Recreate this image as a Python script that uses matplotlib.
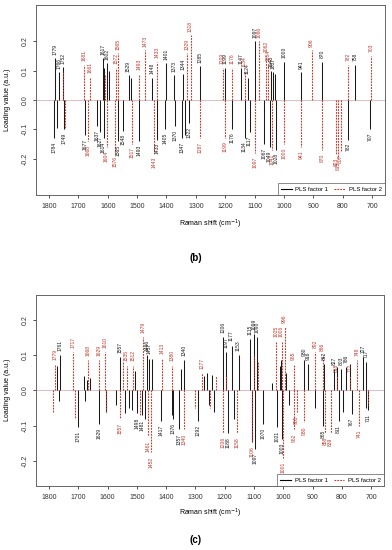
import matplotlib.pyplot as plt
from matplotlib.lines import Line2D

plt.rcParams['font.family'] = ['Liberation Sans', 'DejaVu Sans']

RED = '#c0392b'

# ---- panel (b): loadings of PLS factor 1 / factor 2 at selected Raman shifts
b_f1_shift = [1784, 1779, 1774, 1766, 1752, 1749, 1677, 1637,
              1627, 1617, 1614, 1611, 1602, 1597, 1565, 1548,
              1529, 1521, 1493, 1448, 1433, 1405, 1401, 1373,
              1370, 1347, 1344, 1336, 1322, 1285, 1199, 1176,
              1147, 1134, 1124, 1117, 1097, 1067, 1049, 1045,
              1037, 1030, 1028, 1000, 941, 870, 782, 758,
              707]
b_f1_load = [-0.13, 0.142, -0.095, 0.095, 0.112, -0.10, -0.12, -0.09,
             -0.11, 0.142, -0.13, 0.11, 0.125, 0.10, -0.14, -0.105,
             0.085, 0.075, -0.14, 0.075, -0.135, -0.10, 0.125, 0.085,
             -0.09, -0.13, 0.09, -0.12, -0.08, 0.115, 0.11, -0.10,
             0.11, -0.13, 0.075, -0.11, 0.20, -0.15, -0.16, 0.10,
             0.095, 0.09, -0.17, 0.13, 0.095, 0.13, -0.135, 0.12,
             -0.10]
b_f1_labels = [1784, 1779, 1766, 1752, 1749, 1677, 1637, 1627, 1617, 1614,
               1602, 1565, 1548, 1529, 1493, 1448, 1433, 1405, 1401, 1373,
               1370, 1347, 1344, 1322, 1285, 1199, 1147, 1134, 1124, 1117,
               1176, 1097, 1067, 1049, 1045, 1037, 1028, 1000, 941, 870,
               782, 758, 707]

b_f2_shift = [1753, 1745, 1681, 1668, 1661, 1608, 1604, 1576,
              1572, 1565, 1517, 1493, 1473, 1443, 1433, 1329,
              1318, 1287, 1209, 1199, 1176, 1134, 1097, 1086,
              1062, 1054, 1041, 1000, 941, 906, 870, 823,
              815, 807, 782, 703]
b_f2_load = [0.10, -0.10, 0.12, -0.14, 0.08, 0.09, -0.16, -0.18,
             0.11, 0.16, -0.15, 0.09, 0.17, -0.18, 0.13, 0.16,
             0.22, -0.13, 0.11, -0.13, 0.11, 0.10, -0.18, 0.20,
             0.15, 0.12, -0.17, -0.15, -0.16, 0.17, -0.17, -0.185,
             -0.20, -0.175, 0.12, 0.15]
b_f2_labels = [1681, 1668, 1661, 1604, 1576, 1572, 1565, 1517, 1493, 1473,
               1443, 1433, 1329, 1318, 1287, 1209, 1199, 1176, 1134, 1097,
               1086, 1062, 1054, 1041, 1000, 941, 906, 870, 823, 815,
               807, 782, 703]

# ---- panel (c)
c_f1_shift = [1771, 1765, 1761, 1701, 1681, 1676, 1670, 1660,
              1629, 1604, 1571, 1557, 1539, 1527, 1515, 1505,
              1498, 1481, 1471, 1466, 1457, 1448, 1417, 1380,
              1376, 1357, 1350, 1340, 1292, 1270, 1262, 1255,
              1245, 1238, 1206, 1197, 1188, 1177, 1170, 1153,
              1115, 1108, 1097, 1099, 1090, 1070, 1040, 1021,
              1012, 1007, 1003, 990, 980, 930, 916, 893,
              865, 862, 827, 817, 811, 803, 797, 786,
              774, 767, 727, 718, 717, 711]
c_f1_load = [0.07, -0.03, 0.10, -0.103, 0.04, -0.03, 0.03, 0.035,
             -0.095, -0.06, -0.04, 0.095, -0.065, -0.05, -0.055, 0.055,
             -0.065, -0.07, -0.08, 0.10, 0.09, 0.09, -0.085, -0.07,
             -0.08, -0.11, 0.06, 0.085, -0.085, 0.04, 0.05, -0.04,
             0.045, -0.06, 0.15, 0.108, -0.12, 0.127, -0.08, 0.10,
             0.145, -0.145, -0.165, 0.16, 0.15, -0.094, 0.02, -0.103,
             0.07, 0.085, -0.136, 0.05, -0.04, 0.085, 0.075, -0.05,
             -0.10, 0.075, 0.06, 0.065, -0.085, 0.06, -0.06, 0.065,
             0.075, -0.066, 0.094, -0.05, 0.08, -0.056]
c_f1_labels = [1761, 1701, 1629, 1557, 1498, 1481, 1466, 1457, 1417, 1376,
               1357, 1340, 1292, 1206, 1197, 1188, 1177, 1153, 1115, 1097,
               1099, 1090, 1070, 1021, 1003, 930, 916, 865, 862, 827,
               811, 803, 786, 767, 727, 717, 711]

c_f2_shift = [1785, 1779, 1717, 1712, 1668, 1629, 1610, 1606,
              1557, 1548, 1535, 1512, 1490, 1479, 1461, 1452,
              1413, 1380, 1340, 1300, 1277, 1250, 1230, 1206,
              1195, 1158, 1106, 1099, 1085, 1025, 1006, 1001,
              996, 965, 962, 955, 930, 892, 866, 858,
              839, 818, 772, 748, 741, 710]
c_f2_load = [-0.06, 0.075, 0.108, -0.08, 0.085, 0.085, 0.108, -0.06,
             -0.08, 0.08, 0.07, 0.07, -0.07, 0.15, -0.13, -0.175,
             0.09, 0.07, -0.11, -0.05, 0.05, -0.05, 0.04, -0.12,
             0.04, -0.12, -0.145, 0.10, 0.08, 0.14, 0.14, -0.19,
             0.18, 0.075, -0.11, -0.06, -0.09, 0.108, 0.10, -0.12,
             -0.12, 0.04, 0.04, 0.085, -0.10, -0.04]
c_f2_labels = [1779, 1717, 1668, 1629, 1610, 1557, 1535, 1512, 1479, 1461,
               1452, 1413, 1380, 1340, 1277, 1206, 1158, 1106, 1025, 1006,
               1001, 996, 965, 962, 955, 930, 892, 866, 858, 839,
               818, 772, 748, 741]


def draw_panel(ax, f1_s, f1_v, f1_lab, f2_s, f2_v, f2_lab, ylim):
    ax.axhline(0, color='#d8b4b4', lw=0.6, zorder=0)
    ax.vlines(f1_s, 0, f1_v, colors='#1a1a1a', lw=0.75)
    ax.vlines(f2_s, 0, f2_v, colors=RED, lw=0.8, linestyles=[(0, (1.6, 1.0))])
    for labs, s_list, v_list, col in [(f1_lab, f1_s, f1_v, '#1a1a1a'),
                                      (f2_lab, f2_s, f2_v, RED)]:
        for s in labs:
            v = v_list[s_list.index(s)]
            off = 0.012 if v > 0 else -0.012
            ax.text(s, v + off, str(s), rotation=90, fontsize=3.6, color=col,
                    ha='center', va='bottom' if v > 0 else 'top')
    ax.set_xlim(1844, 656)
    ax.set_ylim(-ylim, ylim)
    ax.set_xticks([1800, 1700, 1600, 1500, 1400, 1300, 1200, 1100, 1000, 900, 800, 700])
    ax.set_yticks([-0.2, -0.1, 0.0, 0.1, 0.2])
    ax.set_yticklabels(['-0.2', '-0.1', '0.0', '0.1', '0.2'], rotation=90, va='center')
    ax.tick_params(labelsize=5, length=2.5, width=0.6, pad=3, colors='#333333')
    for sp in ax.spines.values():
        sp.set_color('#666666')
        sp.set_linewidth(0.7)
    handles = [Line2D([], [], color='black', lw=0.8),
               Line2D([], [], color=RED, lw=0.8, linestyle=(0, (1.6, 1.0)))]
    leg = ax.legend(handles, ['PLS factor 1', 'PLS factor 2'], loc='lower right',
                    ncol=2, fontsize=4.3, frameon=True, fancybox=False,
                    borderaxespad=0, handlelength=1.8, columnspacing=1.0,
                    handletextpad=0.6, borderpad=0.55)
    leg.get_frame().set_edgecolor('#555555')
    leg.get_frame().set_linewidth(0.6)


fig = plt.figure(figsize=(3.92, 5.5), dpi=100)
ax1 = fig.add_axes([0.092, 0.6455, 0.890, 0.3455])
ax2 = fig.add_axes([0.092, 0.1164, 0.888, 0.3473])

draw_panel(ax1, b_f1_shift, b_f1_load, b_f1_labels,
           b_f2_shift, b_f2_load, b_f2_labels, 0.324)
draw_panel(ax2, c_f1_shift, c_f1_load, c_f1_labels,
           c_f2_shift, c_f2_load, c_f2_labels, 0.27)

fig.text(0.537, 0.5927, 'Raman shift (cm$^{-1}$)', fontsize=5, ha='center', va='center')
fig.text(0.537, 0.0673, 'Raman shift (cm$^{-1}$)', fontsize=5, ha='center', va='center')
fig.text(0.02, 0.818, 'Loading value (a.u.)', fontsize=5, rotation=90, ha='center', va='center')
fig.text(0.02, 0.291, 'Loading value (a.u.)', fontsize=5, rotation=90, ha='center', va='center')
fig.text(0.5, 0.531, '(b)', fontsize=7, fontweight='bold', ha='center', va='center')
fig.text(0.5, 0.018, '(c)', fontsize=7, fontweight='bold', ha='center', va='center')

fig.savefig('out.png', dpi=100)
